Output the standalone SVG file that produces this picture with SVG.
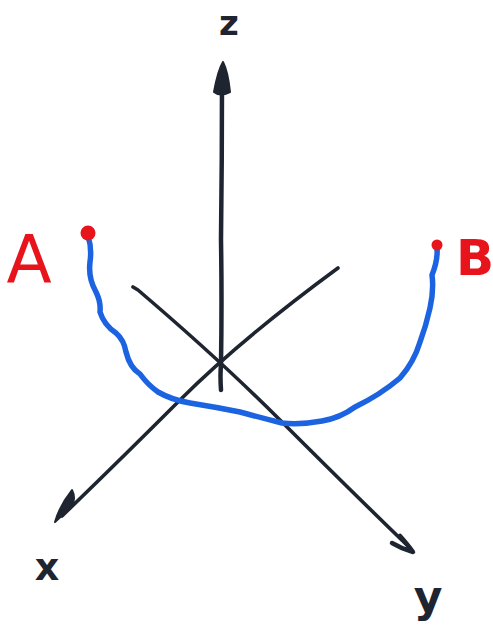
<svg xmlns="http://www.w3.org/2000/svg" width="493" height="635" viewBox="0 0 493 635">
<style>
.ax{fill:none;stroke:#1f2530;stroke-width:3.6;stroke-linecap:round;stroke-linejoin:round}
.zx{stroke-width:4.5}
.head{fill:#1f2530;stroke:#1f2530;stroke-width:2;stroke-linejoin:round}
.lbl{font-family:"DejaVu Sans","Liberation Sans",sans-serif;font-weight:bold;fill:#1f2530}
.red{fill:#e8141c}
.rl{font-family:"DejaVu Sans","Liberation Sans",sans-serif;fill:#e8141c}
</style>
<rect width="493" height="635" fill="#ffffff"/>
<g id="connectors">
<path id="z-axis" class="ax zx" d="M221,390 Q220,375 221,365 Q222,300 221,240 Q222,160 222,80"/>
<path id="y-axis" class="ax" d="M133,287 L138,290 Q220,360 280,420 Q350,490 410,548"/>
<path id="x-axis" class="ax" d="M338,268 Q240,340 180,400 Q120,460 62,516"/>
<path class="head" d="M223,62 Q218,70 214,92 Q220,97 230,92 Q228,72 223,62 Z"/>
<path class="head" d="M55,522 Q60,505 72,490 Q76,498 72,506 Q64,514 55,522 Z"/>
<path class="ax zx" d="M400,536 Q408,545 413,552 Q402,549 392,543"/>
</g>
<g id="curve">
<path fill="none" stroke="#1b63e0" stroke-width="5.5" stroke-linecap="round" stroke-linejoin="round" d="M88,236 Q92,248 90,262 Q88,278 96,292 Q101,302 100,312 Q104,325 116,333 Q124,340 126,352 Q130,368 140,374 Q148,385 158,392 Q172,400 190,403 Q215,407 240,412 Q262,418 282,423 Q300,425 322,421 Q340,418 355,407 Q380,395 400,378 Q414,362 420,342 Q426,326 430,308 Q434,290 432,275 Q438,260 437,248"/>
</g>
<g id="point-A">
<circle class="red" cx="88" cy="233" r="7.5"/>
<text class="rl" x="29" y="282" font-size="66" text-anchor="middle">A</text>
</g>
<g id="point-B">
<circle class="red" cx="437" cy="245" r="5.5"/>
<text class="rl" x="475" y="275" font-size="50" font-weight="bold" text-anchor="middle">B</text>
</g>
<g id="label-z"><text class="lbl" x="229" y="35" font-size="34" text-anchor="middle">z</text></g>
<g id="label-x"><text class="lbl" x="47" y="580" font-size="38" text-anchor="middle">x</text></g>
<g id="label-y"><text class="lbl" x="428" y="612" font-size="44" text-anchor="middle">y</text></g>
</svg>
